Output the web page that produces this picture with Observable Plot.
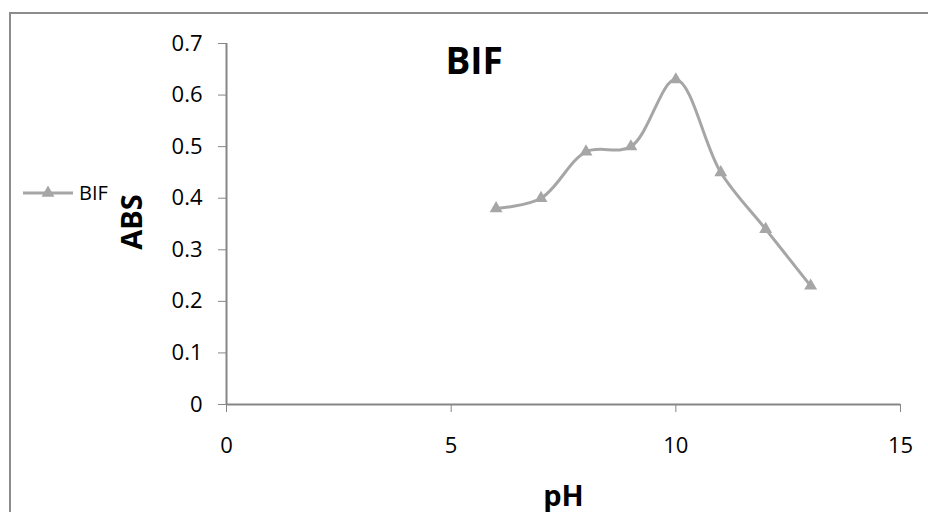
<!DOCTYPE html>
<html>
<head>
<meta charset="utf-8">
<script src="https://cdn.jsdelivr.net/npm/d3@7"></script>
<script src="https://cdn.jsdelivr.net/npm/@observablehq/plot@0.6"></script>
<style>
  html, body { margin: 0; padding: 0; background: #fff; }
  #wrap { position: relative; width: 928px; height: 512px; overflow: hidden; font-family: "Open Sans", sans-serif; }
  #outline { position: absolute; left: 9px; top: 12px; width: 940px; height: 520px; border: 2px solid #8c8c8c; box-sizing: border-box; pointer-events: none; }
  #legend { position: absolute; left: 20px; top: 180px; }
</style>
</head>
<body>
<div id="wrap">
  <div id="outline"></div>
  <div id="chart"></div>
  <svg id="legend" width="110" height="28"></svg>
</div>
<script>
// Absorbance of BIF measured at each pH
const seriesName = "BIF";
const pH = [6, 7, 8, 9, 10, 11, 12, 13];
const abs = [0.38, 0.40, 0.49, 0.50, 0.63, 0.45, 0.34, 0.23];
const xTicks = [0, 5, 10, 15];
const yTicks = [0, 0.1, 0.2, 0.3, 0.4, 0.5, 0.6, 0.7];

const data = pH.map((x, i) => ({x, y: abs[i]}));
const seriesColor = "#a6a6a6";
const axisColor = "#868686";

const chart = Plot.plot({
  width: 928,
  height: 512,
  marginLeft: 226,
  marginRight: 28,
  marginTop: 43,
  marginBottom: 108,
  style: {fontFamily: "Open Sans, sans-serif", color: "#000", background: "transparent"},
  x: {domain: [0, 15], ticks: xTicks},
  y: {domain: [0, 0.7], ticks: yTicks},
  marks: [
    Plot.axisX({ticks: xTicks, tickSize: 8, tickPadding: 25, stroke: axisColor, fontSize: 22, fill: "#000", label: null, tickFormat: d => String(d)}),
    Plot.axisY({ticks: yTicks, tickSize: 8, tickPadding: 16, stroke: axisColor, fontSize: 22, fill: "#000", label: null, tickFormat: d => String(d)}),
    Plot.ruleX([0], {stroke: axisColor, strokeWidth: 2}),
    Plot.ruleY([0], {stroke: axisColor, strokeWidth: 2}),
    Plot.line(data, {x: "x", y: "y", curve: "catmull-rom", stroke: seriesColor, strokeWidth: 3}),
    Plot.dot(data, {x: "x", y: "y", symbol: "triangle", r: 4.8, fill: seriesColor, stroke: "none"}),
    // chart title
    Plot.text([seriesName], {frameAnchor: "top-left", text: d => d, textAnchor: "start", lineAnchor: "bottom", dx: 219, dy: 30, fontSize: 37, fontWeight: "bold", fill: "#000"}),
    // y-axis title
    Plot.text(["ABS"], {frameAnchor: "left", text: d => d, rotate: -90, textAnchor: "middle", lineAnchor: "middle", dx: -94, dy: -2, fontSize: 29, fontWeight: "bold", fill: "#000"}),
    // x-axis title
    Plot.text(["pH"], {frameAnchor: "bottom", text: d => d, textAnchor: "middle", lineAnchor: "bottom", dy: 101, fontSize: 29, fontWeight: "bold", fill: "#000"})
  ]
});
document.getElementById("chart").appendChild(chart);

// legend entry: line with triangle marker and series name
const leg = d3.select("#legend");
leg.append("line").attr("x1", 3).attr("x2", 53).attr("y1", 13).attr("y2", 13)
  .attr("stroke", seriesColor).attr("stroke-width", 3);
leg.append("path").attr("d", d3.symbol(d3.symbolTriangle, Math.PI * 4.8 * 4.8)())
  .attr("transform", "translate(28,13)").attr("fill", seriesColor);
leg.append("text").attr("x", 59).attr("y", 20).text(seriesName)
  .attr("font-family", "Open Sans, sans-serif").attr("font-size", 20).attr("fill", "#000");
</script>
</body>
</html>
